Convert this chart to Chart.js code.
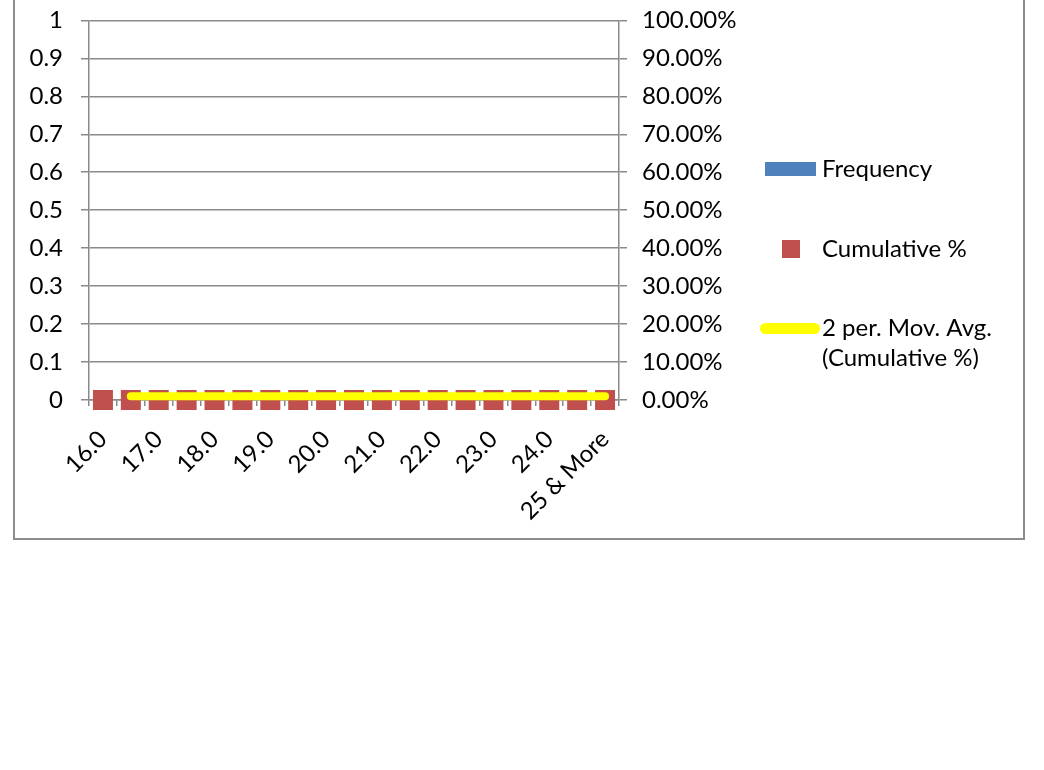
<!DOCTYPE html>
<html>
<head>
<meta charset="utf-8">
<script src="https://cdn.jsdelivr.net/npm/chart.js@4.4.0/dist/chart.umd.min.js"></script>
<style>
  html, body { margin: 0; padding: 0; background: #ffffff; }
  #wrap { position: relative; width: 1044px; height: 770px; overflow: hidden; }
  canvas { display: block; position: absolute; left: 0; top: -12px; }
</style>
</head>
<body>
<div id="wrap"><canvas id="c" width="1044" height="782"></canvas></div>
<script>
// ---- data ----
const categories = ['16.0','16.5','17.0','17.5','18.0','18.5','19.0','19.5','20.0','20.5',
                    '21.0','21.5','22.0','22.5','23.0','23.5','24.0','24.5','25 & More'];
const frequency  = [0,0,0,0,0,0,0,0,0,0,0,0,0,0,0,0,0,0,0];
const cumulative = [0,0,0,0,0,0,0,0,0,0,0,0,0,0,0,0,0,0,0];
const movAvg     = [null,0.01,0.01,0.01,0.01,0.01,0.01,0.01,0.01,0.01,0.01,0.01,0.01,0.01,0.01,0.01,0.01,0.01,0.01];
const leftTicks  = ['0','0.1','0.2','0.3','0.4','0.5','0.6','0.7','0.8','0.9','1'];
const rightTicks = ['0.00%','10.00%','20.00%','30.00%','40.00%','50.00%','60.00%','70.00%','80.00%','90.00%','100.00%'];
const seriesNames = ['Frequency', 'Cumulative %', ['2 per. Mov. Avg.', '(Cumulative %)']];

const FONT = "Lato, 'Open Sans', 'Liberation Sans', sans-serif";
const FSIZE = 24;
const GRID = '#8a8a8a';
const SHIFT = 12; // canvas is shifted up by this many pixels

const framePlugin = {
  id: 'frame',
  beforeDraw(chart) {
    const ctx = chart.ctx;
    ctx.save();
    ctx.fillStyle = '#ffffff';
    ctx.fillRect(0, 0, chart.width, chart.height);
    ctx.strokeStyle = '#8c8c8c';
    ctx.lineWidth = 2;
    ctx.strokeRect(14, -5 + SHIFT, 1010, 544);
    ctx.restore();
  }
};

const legendPlugin = {
  id: 'customLegend',
  afterDraw(chart) {
    const ctx = chart.ctx;
    const ds = chart.data.datasets;
    ctx.save();
    ctx.translate(0, SHIFT);
    ctx.font = FSIZE + 'px ' + FONT;
    ctx.fillStyle = '#000000';
    ctx.textBaseline = 'alphabetic';
    ctx.textAlign = 'left';
    // Frequency
    ctx.fillStyle = ds[2].backgroundColor;
    ctx.fillRect(765, 162, 51, 14);
    ctx.fillStyle = '#000';
    ctx.fillText(ds[2].label, 822, 177);
    // Cumulative %
    ctx.fillStyle = ds[1].pointBackgroundColor;
    ctx.fillRect(782, 240, 18, 18);
    ctx.fillStyle = '#000';
    ctx.fillText(ds[1].label, 822, 257);
    // Moving average
    ctx.strokeStyle = ds[0].borderColor;
    ctx.lineWidth = 11;
    ctx.lineCap = 'round';
    ctx.beginPath();
    ctx.moveTo(765.5, 328.5);
    ctx.lineTo(814.5, 328.5);
    ctx.stroke();
    ctx.fillStyle = '#000';
    const lines = seriesNames[2];
    ctx.fillText(lines[0], 822, 336);
    ctx.fillText(lines[1], 822, 366);
    ctx.restore();
  }
};

new Chart(document.getElementById('c'), {
  data: {
    labels: categories,
    datasets: [
      {
        type: 'line',
        label: seriesNames[2].join(' '),
        data: movAvg,
        yAxisID: 'y1',
        borderColor: '#FFFF00',
        borderWidth: 8,
        borderCapStyle: 'round',
        borderJoinStyle: 'round',
        pointRadius: 0,
        fill: false,
        clip: false,
        order: 1
      },
      {
        type: 'line',
        label: seriesNames[1],
        data: cumulative,
        yAxisID: 'y1',
        showLine: false,
        pointStyle: 'rect',
        pointRadius: 14.142,
        pointBorderWidth: 0,
        pointBackgroundColor: '#C0504D',
        pointBorderColor: '#C0504D',
        clip: false,
        order: 2
      },
      {
        type: 'bar',
        label: seriesNames[0],
        data: frequency,
        yAxisID: 'y',
        backgroundColor: '#4F81BD',
        borderWidth: 0,
        order: 3
      }
    ]
  },
  options: {
    responsive: false,
    animation: false,
    devicePixelRatio: 1,
    events: [],
    layout: { padding: { top: 9, left: 0, right: 0, bottom: 0 } },
    plugins: {
      legend: { display: false },
      tooltip: { enabled: false },
      title: { display: false }
    },
    scales: {
      x: {
        type: 'category',
        offset: true,
        grid: {
          offset: true,
          drawOnChartArea: false,
          drawTicks: true,
          tickLength: 6,
          color: GRID,
          lineWidth: 1.5
        },
        border: { display: true, color: GRID, width: 1.5 },
        ticks: {
          autoSkip: false,
          maxRotation: 45,
          minRotation: 45,
          padding: 19,
          color: '#000',
          font: { family: FONT, size: FSIZE },
          callback: (v, i) => (i % 2 === 0 ? categories[i] : '')
        },
        afterFit: (s) => { s.height = 370; }
      },
      y: {
        position: 'left',
        min: 0,
        max: 1,
        grid: { color: GRID, lineWidth: 1.5, tickLength: 8 },
        border: { display: true, color: GRID, width: 1.5 },
        ticks: {
          stepSize: 0.1,
          padding: 18,
          color: '#000',
          font: { family: FONT, size: FSIZE },
          callback: (v, i) => leftTicks[i]
        },
        afterFit: (s) => { s.width = 89; }
      },
      y1: {
        position: 'right',
        min: 0,
        max: 1,
        grid: { drawOnChartArea: false, color: GRID, lineWidth: 1.5, tickLength: 8 },
        border: { display: true, color: GRID, width: 1.5 },
        ticks: {
          stepSize: 0.1,
          padding: 15,
          color: '#000',
          font: { family: FONT, size: FSIZE },
          callback: (v, i) => rightTicks[i]
        },
        afterFit: (s) => { s.width = 425; }
      }
    }
  },
  plugins: [framePlugin, legendPlugin]
});
</script>
</body>
</html>
